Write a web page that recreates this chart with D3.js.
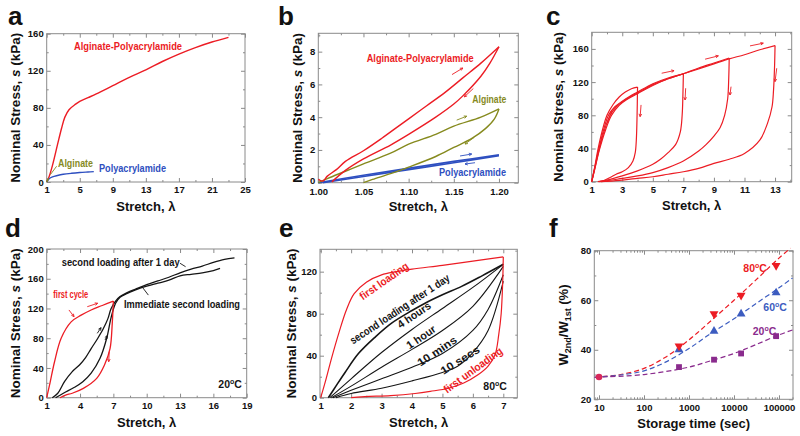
<!DOCTYPE html>
<html>
<head>
<meta charset="utf-8">
<script src="https://cdn.jsdelivr.net/npm/d3@7"></script>
<style>
	body { margin: 0; background: #fff; }
	svg { display: block; font-family: Arial, 'Liberation Sans', sans-serif; }
	.axis line { stroke: #8a8a8a; stroke-width: 1; }
	.axis text { font-size: 9.5px; font-weight: bold; fill: #111; font-family: Arial, 'Liberation Sans', sans-serif; }
	.frame { fill: none; stroke: #8a8a8a; stroke-width: 1; }
	.title { font-size: 13px; font-weight: bold; fill: #111; }
	.letter { font-size: 26px; font-weight: bold; fill: #111; }
	.note { font-weight: bold; }
</style>
</head>
<body>
<svg></svg>
<script>
var width = 800;
var height = 436;

var RED = '#ec1c24';
var OLIVE = '#868a1e';
var BLUE = '#2e4fc0';
var BLACK = '#151515';
var PURPLE = '#8a2b8d';
var FBLUE = '#3c5cc0';

// panel a : stretch vs nominal stress
var aAlgPaam = [[1,0],[1.3,6],[1.7,18],[2.3,40],[2.8,58],[3.2,70],[3.7,78],[4.5,84],[5,87],[6,91],[7,95],[9,104],[11,113],[13,121],[15,130],[17,138],[19,145],[21,151],[23,156]];
var aAlginate = [[1,0],[1.1,2],[1.25,4]];
var aPaam = [[1,0],[1.3,3.5],[1.7,5.5],[2.3,7],[3,8.3],[4,9.4],[5,10.2],[6,10.8],[6.7,11.2]];

// panel b : small loading / unloading loops
var bAlgPaamLoad = [[1.0,0.2],[1.005,0.1],[1.01,0.4],[1.02,0.8],[1.03,1.3],[1.05,1.95],[1.07,2.7],[1.09,3.5],[1.10,3.9],[1.12,4.7],[1.14,5.5],[1.16,6.4],[1.18,7.3],[1.20,8.3]];
var bAlgPaamUnload = [[1.20,8.3],[1.19,7.3],[1.18,6.5],[1.16,5.3],[1.15,4.8],[1.13,4.0],[1.10,2.95],[1.08,2.3],[1.05,1.45],[1.03,0.75],[1.015,0.05]];
var bAlgLoad = [[1.0,0],[1.01,0.25],[1.03,0.7],[1.05,1.15],[1.08,1.8],[1.10,2.35],[1.13,2.95],[1.15,3.45],[1.18,4.0],[1.20,4.5]];
var bAlgUnload = [[1.20,4.5],[1.195,3.9],[1.185,3.3],[1.17,2.7],[1.15,2.15],[1.13,1.6],[1.10,0.95],[1.08,0.55],[1.06,0.2],[1.05,0]];
var bPaamLoad = [[1.0,0],[1.05,0.45],[1.10,0.88],[1.15,1.3],[1.20,1.7]];
var bPaamUnload = [[1.20,1.65],[1.15,1.22],[1.10,0.8],[1.05,0.38],[1.005,0]];

// panel c : loops to stretch 4, 7, 10, 13
var cLoad4 = [[1,0],[1.2,18],[1.4,38],[1.7,62],[2,80],[2.4,93],[2.8,102],[3.2,108],[3.6,112],[4,114]];
var cUnload4 = [[4,114],[3.97,80],[3.92,50],[3.85,35],[3.7,25],[3.4,17],[3,12],[2.6,9],[2.2,5],[1.8,1.5],[1.5,0]];
var cLoad7 = [[1,0],[1.2,17],[1.45,38],[1.8,64],[2.1,80],[2.5,90],[3,97],[3.5,103],[4,108],[5,118],[6,125],[7,130]];
var cUnload7 = [[7,130],[6.97,105],[6.92,80],[6.8,60],[6.5,45],[6,35],[5.5,27],[5,21],[4,13],[3,7],[2,2],[1.4,0]];
var cLoad10 = [[1,0],[1.2,16],[1.5,40],[1.8,60],[2.2,80],[2.6,90],[3,96],[3.5,102],[4,107],[5,117],[6,124],[7,130],[8,137],[9,143],[10,149]];
var cUnload10 = [[10,149],[9.97,125],[9.9,100],[9.7,80],[9.4,65],[9,55],[8.5,45],[8,37],[7,25],[6,17],[5,11],[4,7],[3,4],[2,1],[1.5,0]];
var cLoad13 = [[1,0],[1.2,15],[1.5,38],[1.9,62],[2.3,80],[2.8,92],[3.3,99],[4,106],[5,116],[6,124],[7,130],[8,136],[9,142],[10,148],[11,153],[12,159],[13,164]];
var cUnload13 = [[13,164],[12.97,140],[12.9,110],[12.8,90],[12.5,70],[12,50],[11,34],[10,27],[9,22],[8,16],[7,12],[6,9],[5,6],[4,4],[3,2],[2,0.5],[1.6,0]];

// panel d : recovery at 20 C
var dFirstLoad = [[1,0],[1.3,20],[1.7,48],[2.3,80],[3.2,102],[4.1,111],[5,118],[6,124],[7,130]];
var dFirstUnload = [[7,130],[6.9,100],[6.7,66],[6.2,44],[5.5,26],[4.3,12.5],[3.3,6],[2.7,3.6],[2.2,0]];
var dImmediate = [[1.8,0],[2.5,6],[3.5,14],[4.25,21.5],[5,33],[5.8,53],[6.4,80],[6.8,108],[7.2,127],[7.6,135],[8.2,140],[9,145],[10,150],[11,154],[12,158],[13,164],[14,166],[15,168],[16,171],[16.6,174]];
var dOneDay = [[1.5,0],[2,6],[2.6,21.5],[3.3,35],[3.95,44],[4.5,54],[5,66],[5.6,80],[6.1,93],[6.5,106],[6.8,120],[7.2,130],[7.6,136],[8.2,141],[9,146],[10,152],[11,157],[12,162],[13,168],[14,173],[15,177],[16,182],[17,186],[17.9,188]];

// panel e : recovery at 80 C
var eFirstLoad = [[1,0],[1.15,15],[1.36,38],[1.6,62],[1.85,84],[2.1,99],[2.5,110],[3,117],[3.5,120],[4,122.5],[5,126],[6,130],[7,134]];
var eFirstUnload = [[7,134],[6.98,110],[6.93,80],[6.85,60],[6.73,41],[6.5,30],[6.18,22],[5.7,14],[5.2,9],[4.6,6],[4.1,4],[3.3,2],[2.45,1],[2,0]];
var eOneDay = [[1.25,0],[1.5,11],[1.8,24],[2.24,42],[2.8,58],[3.33,71],[4,83],[4.43,90],[5,98],[5.63,106],[6.3,116],[7,127]];
var eFourHours = [[1.3,0],[2,18],[3,43],[4,65],[5,85],[6,105],[7,127]];
var eOneHour = [[1.35,0],[2,11],[3,29],[4,46],[5,64],[6,87],[7,125]];
var eTenMins = [[1.4,0],[2,7],[3,18],[4,29],[5,42],[6,64],[6.5,84],[7,117]];
var eTenSecs = [[1.5,0],[2,4],[3,9],[4,16],[5,24],[5.5,30],[6,43],[6.5,64],[7,111]];

// panel f : recovered work ratio vs storage time
var fTimes = [10, 600, 3600, 14400, 86400];
var f20 = [29, 33, 36, 38.5, 45.5];
var f60 = [29, 40, 47.5, 54.5, 63];
var f80 = [29, 41.5, 54.5, 62, 74];
var f20Fit = [[8,29],[10,29],[100,30],[1000,33],[3000,35.5],[10000,38.5],[30000,42],[100000,46],[200000,48]];
var f60Fit = [[8,28.8],[10,29],[30,29.8],[100,31.5],[300,35],[1000,40.5],[3000,46.5],[10000,52.5],[30000,58.5],[100000,65],[200000,69]];
var f80Fit = [[8,28.8],[10,29],[30,30],[100,32.5],[300,37],[1000,44],[3000,51.5],[10000,60],[30000,68],[100000,77],[180000,81]];

var svg = d3.select('svg')
			.attr('width', width)
			.attr('height', height);

function addTicks(g, axisFn, scale, values, size, fmt, tx, ty, pad) {
	var axis = axisFn(scale)
				 .tickValues(values)
				 .tickSize(-size)
				 .tickSizeOuter(0)
				 .tickPadding(pad || 3);
	if(fmt !== undefined) axis.tickFormat(fmt);
	return g.append('g')
			  .classed('axis', true)
			  .attr('transform', `translate(${tx}, ${ty})`)
			  .call(axis)
			  .call(s => s.select('.domain').remove());
}

function drawPanel(p) {
	var x = (p.log ? d3.scaleLog() : d3.scaleLinear())
			  .domain(p.xDomain)
			  .range([p.left, p.right]);
	var y = d3.scaleLinear()
			  .domain(p.yDomain)
			  .range([p.bottom, p.top]);
	var g = svg.append('g');
	var none = () => '';

	g.append('rect')
	   .classed('frame', true)
	   .attr('x', p.left)
	   .attr('y', p.top)
	   .attr('width', p.right - p.left)
	   .attr('height', p.bottom - p.top);

	addTicks(g, d3.axisBottom, x, p.xMajor, 4, p.xFormat || d3.format('d'), 0, p.bottom, p.xPad || 4.5);
	addTicks(g, d3.axisBottom, x, p.xMinor, 2, none, 0, p.bottom);
	addTicks(g, d3.axisTop, x, p.xMajor, 4, none, 0, p.top);
	addTicks(g, d3.axisTop, x, p.xMinor, 2, none, 0, p.top);
	var yAxis = addTicks(g, d3.axisLeft, y, p.yMajor, 4, undefined, p.left, 0);
	addTicks(g, d3.axisLeft, y, p.yMinor, 2, none, p.left, 0);
	addTicks(g, d3.axisRight, y, p.yMajor, 4, none, p.right, 0);
	addTicks(g, d3.axisRight, y, p.yMinor, 2, none, p.right, 0);

	g.append('text')
	   .classed('letter', true)
	   .attr('x', p.letterX)
	   .attr('y', p.letterY)
	   .text(p.letter);

	g.append('text')
	   .classed('title', true)
	   .attr('text-anchor', 'middle')
	   .attr('x', (p.left + p.right) / 2)
	   .attr('y', p.xTitleY)
	   .text(p.xTitle);

	var yt = g.append('text')
			  .classed('title', true)
			  .attr('text-anchor', 'middle')
			  .attr('dy', '0.35em')
			  .attr('transform', `translate(${p.yTitleX}, ${(p.top + p.bottom) / 2}) rotate(-90)`);
	if(p.yTitleParts) p.yTitleParts(yt);
	else {
		yt.attr('textLength', 150).attr('lengthAdjust', 'spacingAndGlyphs');
		yt.append('tspan').text('Nominal Stress, ');
		yt.append('tspan').attr('font-style', 'italic').text('s');
		yt.append('tspan').text(' (kPa)');
	}

	return {g: g, x: x, y: y, yAxis: yAxis};
}

function drawCurve(P, data, color, w, dash) {
	P.g.append('path')
	   .datum(data)
	   .attr('fill', 'none')
	   .attr('stroke', color)
	   .attr('stroke-width', w || 1.2)
	   .attr('stroke-linejoin', 'round')
	   .attr('stroke-dasharray', dash || null)
	   .attr('d', d3.line()
				   .x(d => P.x(d[0]))
				   .y(d => P.y(d[1]))
				   .curve(d3.curveCatmullRom.alpha(0.5)));
}

// short direction arrow, given in data units
function drawArrow(P, a, color, head) {
	var x1 = P.x(a[0]), y1 = P.y(a[1]), x2 = P.x(a[2]), y2 = P.y(a[3]);
	P.g.append('line')
	   .attr('x1', x1).attr('y1', y1).attr('x2', x2).attr('y2', y2)
	   .attr('stroke', color)
	   .attr('stroke-width', 0.9);
	if(head === false) return;
	var ang = Math.atan2(y2 - y1, x2 - x1);
	[-0.45, 0.45].forEach(da => {
		P.g.append('line')
		   .attr('x1', x2).attr('y1', y2)
		   .attr('x2', x2 - 3 * Math.cos(ang + da))
		   .attr('y2', y2 - 3 * Math.sin(ang + da))
		   .attr('stroke', color)
		   .attr('stroke-width', 0.9);
	});
}

function note(P, txt, x, y, color, size, len, angle) {
	var t = P.g.append('text')
			  .classed('note', true)
			  .attr('fill', color)
			  .attr('font-size', size + 'px');
	if(angle !== undefined) {
		t.attr('text-anchor', 'middle')
		 .attr('dy', '0.35em')
		 .attr('transform', `translate(${x}, ${y}) rotate(${angle})`);
	} else {
		t.attr('x', x).attr('y', y);
	}
	if(len) t.attr('textLength', len).attr('lengthAdjust', 'spacingAndGlyphs');
	t.text(txt);
	return t;
}

function degreeNote(P, num, x, y, color) {
	var t = P.g.append('text')
			  .classed('note', true)
			  .attr('fill', color)
			  .attr('font-size', '10.5px')
			  .attr('x', x)
			  .attr('y', y);
	t.append('tspan').text(num);
	t.append('tspan').attr('font-size', '7px').attr('dy', -4).text('o');
	t.append('tspan').attr('dy', 4).text('C');
}

// ---------- a ----------
var A = drawPanel({
	left: 46.7, right: 245, top: 33.7, bottom: 182,
	xDomain: [1, 25], yDomain: [0, 160],
	xMajor: [1, 5, 9, 13, 17, 21, 25], xMinor: [3, 7, 11, 15, 19, 23],
	yMajor: [0, 40, 80, 120, 160], yMinor: [20, 60, 100, 140],
	letter: 'a', letterX: 8, letterY: 25,
	xTitle: 'Stretch, \u03bb', xTitleY: 211, yTitleX: 15
});
drawCurve(A, aAlgPaam, RED, 1.4);
drawCurve(A, aPaam, BLUE, 1.4);
drawCurve(A, aAlginate, OLIVE, 1.4);
drawArrow(A, [1.45, 8, 2.2, 17], OLIVE, false);
note(A, 'Alginate-Polyacrylamide', 74, 50, RED, 10.5, 108);
note(A, 'Alginate', 58, 167, OLIVE, 10.5, 35);
note(A, 'Polyacrylamide', 99, 172, BLUE, 10.5, 67);

// ---------- b ----------
var B = drawPanel({
	left: 318.3, right: 518.3, top: 33.3, bottom: 182.7,
	xDomain: [1, 1.2214], yDomain: [0, 9.12],
	xMajor: [1, 1.05, 1.1, 1.15, 1.2], xMinor: [1.025, 1.075, 1.125, 1.175],
	yMajor: [0, 2, 4, 6, 8], yMinor: [1, 3, 5, 7, 9],
	xFormat: d3.format('.2f'), xPad: 6,
	letter: 'b', letterX: 278, letterY: 25,
	xTitle: 'Stretch, \u03bb', xTitleY: 211, yTitleX: 297
});
// lift the corner "0" a little so it clears the "1.00" below it
B.yAxis.selectAll('.tick text')
	   .filter(d => d === 0)
	   .attr('y', -2.5);
drawCurve(B, bPaamUnload, BLUE, 1.6);
drawCurve(B, bPaamLoad, BLUE, 1.6);
drawCurve(B, bAlgLoad, OLIVE, 1.4);
drawCurve(B, bAlgUnload, OLIVE, 1.4);
drawCurve(B, bAlgPaamLoad, RED, 1.4);
drawCurve(B, bAlgPaamUnload, RED, 1.4);
[[1.148, 6.6, 1.160, 7.0, RED], [1.1716, 5.75, 1.1616, 5.24, RED],
 [1.1532, 3.82, 1.1643, 4.06, OLIVE], [1.1727, 2.77, 1.1624, 2.36, OLIVE],
 [1.1569, 1.63, 1.1698, 1.75, BLUE], [1.1735, 1.22, 1.1624, 1.14, BLUE]]
	.forEach(a => drawArrow(B, a, a[4]));
note(B, 'Alginate-Polyacrylamide', 366.7, 61.7, RED, 10.5, 107);
note(B, 'Alginate', 472.3, 103.3, OLIVE, 10.5, 34);
note(B, 'Polyacrylamide', 439, 176, BLUE, 10.5, 67);

// ---------- c ----------
var C = drawPanel({
	left: 591.7, right: 791.7, top: 32.3, bottom: 181.7,
	xDomain: [1, 14.09], yDomain: [0, 180],
	xMajor: [1, 3, 5, 7, 9, 11, 13], xMinor: [2, 4, 6, 8, 10, 12, 14],
	yMajor: [0, 40, 80, 120, 160], yMinor: [20, 60, 100, 140],
	letter: 'c', letterX: 546, letterY: 25,
	xTitle: 'Stretch, \u03bb', xTitleY: 210, yTitleX: 558
});
[cLoad4, cUnload4, cLoad7, cUnload7, cLoad10, cUnload10, cLoad13, cUnload13]
	.forEach(d => drawCurve(C, d, RED, 1.2));
[[2.02, 70.4, 2.31, 84.4], [5.58, 130.7, 6.39, 133.8], [8.42, 147.6, 9.29, 151.6],
 [11.36, 163.6, 12.23, 166.9], [4.23, 92.5, 4.17, 78.4], [7.15, 112.6, 7.11, 98.5],
 [10.12, 114.5, 10.05, 104.5], [13.11, 136.7, 13.0, 120.6]]
	.forEach(a => drawArrow(C, a, RED));

// ---------- d ----------
var D = drawPanel({
	left: 46.7, right: 246.7, top: 249, bottom: 397.7,
	xDomain: [1, 19], yDomain: [0, 200],
	xMajor: [1, 4, 7, 10, 13, 16, 19], xMinor: [2.5, 5.5, 8.5, 11.5, 14.5, 17.5],
	yMajor: [0, 40, 80, 120, 160, 200], yMinor: [20, 60, 100, 140, 180],
	letter: 'd', letterX: 5, letterY: 237,
	xTitle: 'Stretch, \u03bb', xTitleY: 427, yTitleX: 15
});
drawCurve(D, dOneDay, BLACK, 1.3);
drawCurve(D, dImmediate, BLACK, 1.3);
drawCurve(D, dFirstLoad, RED, 1.3);
drawCurve(D, dFirstUnload, RED, 1.3);
drawArrow(D, [3.0, 118, 3.46, 109], RED);
drawArrow(D, [4.65, 122.4, 5.59, 127], RED);
drawArrow(D, [6.63, 61.9, 6.58, 48.4], RED);
drawArrow(D, [5.55, 86.6, 5.89, 94.2], BLACK);
drawArrow(D, [6.25, 77.6, 6.45, 83.4], BLACK);
drawArrow(D, [13.0, 180.8, 13.5, 176.2], BLACK, false);
drawArrow(D, [9.64, 148, 10.15, 138], BLACK, false);
note(D, 'second loading after 1 day', 61.7, 265.7, BLACK, 10.5, 118);
note(D, 'Immediate second loading', 124, 308.3, BLACK, 10.5, 116);
note(D, 'first cycle', 53.3, 298.3, RED, 11, 35);
degreeNote(D, '20', 218.3, 388.3, BLACK);

// ---------- e ----------
var E = drawPanel({
	left: 320, right: 517.3, top: 249.3, bottom: 397.7,
	xDomain: [0.977, 7.46], yDomain: [0, 141.3],
	xMajor: [1, 2, 3, 4, 5, 6, 7], xMinor: [1.5, 2.5, 3.5, 4.5, 5.5, 6.5],
	yMajor: [0, 40, 80, 120], yMinor: [20, 60, 100, 140],
	letter: 'e', letterX: 279, letterY: 237,
	xTitle: 'Stretch, \u03bb', xTitleY: 427, yTitleX: 291
});
[eTenSecs, eTenMins, eOneHour, eFourHours].forEach(d => drawCurve(E, d, BLACK, 1.1));
drawCurve(E, eOneDay, BLACK, 1.6);
drawCurve(E, eFirstLoad, RED, 1.2);
drawCurve(E, eFirstUnload, RED, 1.2);
note(E, 'first loading', 384, 281, RED, 11, 57, -35);
note(E, 'second loading after 1 day', 399.7, 309, BLACK, 11, 117, -33.5);
note(E, '4 hours', 414, 315, BLACK, 11, 38, -34);
note(E, '1 hour', 421, 337, BLACK, 11, 33, -34);
note(E, '10 mins', 437, 351, BLACK, 11, 45, -34);
note(E, '10 secs', 460, 360, BLACK, 11, 44, -32);
note(E, 'first unloading', 473, 370, RED, 11, 70, -36);
degreeNote(E, '80', 483.3, 390, BLACK);

// ---------- f ----------
var fMinor = [];
[1, 10, 100, 1000, 10000, 100000].forEach(b => {
	[2, 3, 4, 5, 6, 7, 8, 9].forEach(m => { if(b * m < 2.05e5) fMinor.push(b * m); });
});
fMinor = fMinor.filter(v => v > 7.86);

var F = drawPanel({
	log: true,
	left: 594.3, right: 793, top: 250.7, bottom: 399.3,
	xDomain: [7.86, 2.05e5], yDomain: [20, 80],
	xMajor: [10, 100, 1000, 10000, 100000], xMinor: fMinor,
	yMajor: [20, 40, 60, 80], yMinor: [30, 50, 70],
	xFormat: d3.format('d'),
	letter: 'f', letterX: 549, letterY: 237,
	xTitle: 'Storage time (sec)', xTitleY: 428, yTitleX: 563,
	yTitleParts: t => {
		t.attr('font-size', '14px');
		t.append('tspan').text('W');
		t.append('tspan').attr('font-size', '9px').attr('dy', 3).text('2nd');
		t.append('tspan').attr('dy', -3).text('/W');
		t.append('tspan').attr('font-size', '9px').attr('dy', 3).text('1st');
		t.append('tspan').attr('dy', -3).text(' (%)');
	}
});
F.g.select('.title').attr('font-size', '12px');

drawCurve(F, f80Fit, RED, 1.2, '5,3');
drawCurve(F, f60Fit, FBLUE, 1.2, '5,3');
drawCurve(F, f20Fit, PURPLE, 1.2, '5,3');

function markers(vals, color, type, rot) {
	F.g.selectAll(null)
	   .data(fTimes.map((t, i) => [t, vals[i]]).slice(1))
	   .enter()
	   .append('path')
		 .attr('d', d3.symbol().type(type).size(34))
		 .attr('fill', color)
		 .attr('transform', d => `translate(${F.x(d[0])}, ${F.y(d[1])}) rotate(${rot})`);
}
markers(f20, PURPLE, d3.symbolSquare, 0);
markers(f60, FBLUE, d3.symbolTriangle, 0);
markers(f80, RED, d3.symbolTriangle, 180);
F.g.append('circle')
   .attr('cx', F.x(fTimes[0]))
   .attr('cy', F.y(f20[0]))
   .attr('r', 3.3)
   .attr('fill', '#d8285a');

degreeNote(F, '80', 743.3, 272, RED);
degreeNote(F, '60', 763.3, 310.5, FBLUE);
degreeNote(F, '20', 752.7, 335, PURPLE);
</script>
</body>
</html>
